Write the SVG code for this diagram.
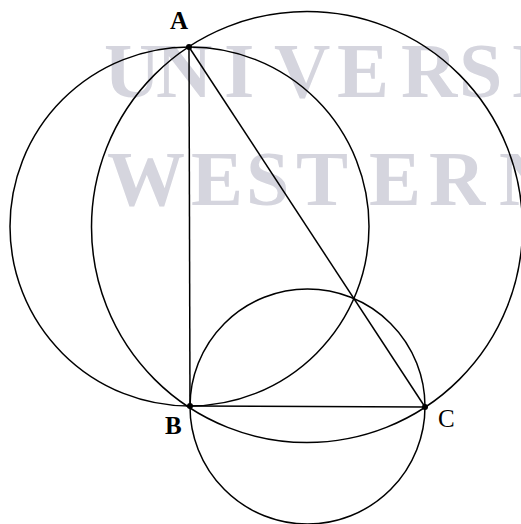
<svg xmlns="http://www.w3.org/2000/svg" width="521" height="524" viewBox="0 0 521 524">
<style>
.wm{font-family:"Liberation Serif",serif;font-weight:bold;font-size:78px;fill:#d5d5de}
.c{fill:none;stroke:#000;stroke-width:1.5}
.ln{stroke:#000;stroke-width:1.5;fill:none}
.pt{fill:#000}
.lb{font-family:"Liberation Serif",serif;font-size:25px;fill:#000}
</style>
<rect width="521" height="524" fill="#fff"/>
<g id="watermark">
<text class="wm" x="104 156 224 274 337 401 459 511" y="97">UNIVERSI</text>
<text class="wm" x="107 191 246 296 369 429 499" y="205">WESTERN</text>
</g>
<g id="circles">
<circle id="circle-AB" class="c" cx="189.5" cy="226.5" r="179.5"/>
<circle id="circle-AC" class="c" cx="307" cy="227" r="215.5"/>
<circle id="circle-BC" class="c" cx="307.5" cy="406.5" r="117.5"/>
</g>
<g id="connectors">
<line class="ln" x1="189" y1="47" x2="190" y2="406"/>
<line class="ln" x1="190" y1="406" x2="425" y2="407"/>
<line class="ln" x1="189" y1="47" x2="425" y2="407"/>
</g>
<g id="A">
<circle class="pt" cx="189" cy="47" r="3"/>
<text class="lb" x="170" y="29" font-weight="bold">A</text>
</g>
<g id="B">
<circle class="pt" cx="190" cy="406" r="3"/>
<text class="lb" x="165" y="434" font-weight="bold">B</text>
</g>
<g id="C">
<circle class="pt" cx="425" cy="407" r="3"/>
<text class="lb" x="438" y="427">C</text>
</g>
</svg>
